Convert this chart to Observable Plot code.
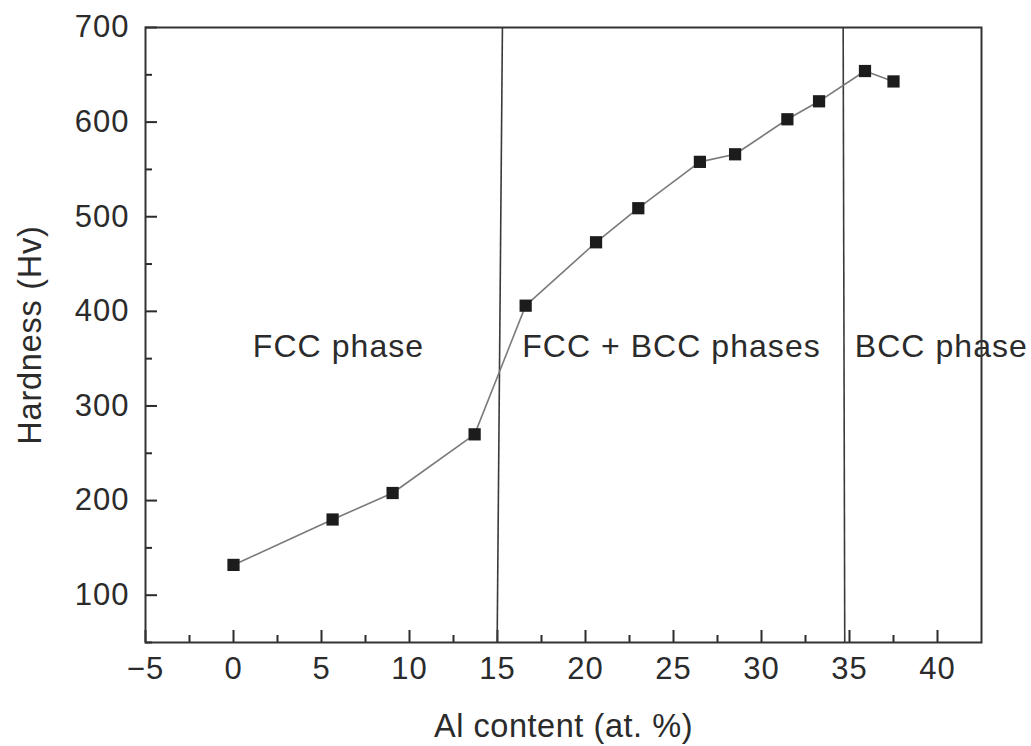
<!DOCTYPE html>
<html>
<head>
<meta charset="utf-8">
<script src="https://cdn.jsdelivr.net/npm/d3@7"></script>
<script src="https://cdn.jsdelivr.net/npm/@observablehq/plot@0.6"></script>
<style>
  html, body { margin: 0; padding: 0; background: #fff; }
</style>
</head>
<body>
<div id="chart"></div>
<script>
// Data
const alContent = [0, 5.63, 9.04, 13.7, 16.6, 20.6, 23.0, 26.5, 28.5, 31.47, 33.27, 35.88, 37.5];
const hardness  = [132, 180, 208, 270, 406, 473, 509, 558, 566, 603, 622, 654, 643];

// Phase boundary lines (slightly slanted in the original)
const boundaryTopX    = [15.28, 34.64];
const boundaryBottomX = [14.98, 34.73];

// Phase annotations
const phaseLabels = ["FCC phase", "FCC + BCC phases", "BCC phase"];
const phaseLabelX = [1.1, 16.4, 35.3];
const phaseLabelY = [363, 363, 363];

// Axis ticks
const xMajorTicks = [-5, 0, 5, 10, 15, 20, 25, 30, 35, 40];
const xMinorTicks = [-2.5, 2.5, 7.5, 12.5, 17.5, 22.5, 27.5, 32.5, 37.5];
const yMajorTicks = [100, 200, 300, 400, 500, 600, 700];
const yMinorTicks = [50, 150, 250, 350, 450, 550, 650];

const xDomain = [-5, 42.5];
const yDomain = [50, 700];

const points = alContent.map((x, i) => ({x, y: hardness[i]}));
const boundaries = boundaryTopX.map((t, i) => ({x1: t, x2: boundaryBottomX[i], y1: yDomain[1], y2: yDomain[0]}));
const notes = phaseLabels.map((t, i) => ({text: t, x: phaseLabelX[i], y: phaseLabelY[i]}));

const ink = "#2b2b2b";

const chart = Plot.plot({
  width: 1031,
  height: 746,
  marginTop: 27,
  marginRight: 50,
  marginBottom: 104,
  marginLeft: 145,
  style: {fontFamily: "'Liberation Sans', Arial, Helvetica, sans-serif", color: ink, background: "#fff", overflow: "visible"},
  x: {domain: xDomain},
  y: {domain: yDomain},
  marks: [
    // inward ticks
    Plot.axisX(xMajorTicks, {anchor: "bottom", tickSize: -12, text: null, label: null, stroke: ink, strokeWidth: 2}),
    Plot.axisX(xMinorTicks, {anchor: "bottom", tickSize: -7, text: null, label: null, stroke: ink, strokeWidth: 2}),
    Plot.axisY(yMajorTicks, {anchor: "left", tickSize: -12, text: null, label: null, stroke: ink, strokeWidth: 2}),
    Plot.axisY(yMinorTicks, {anchor: "left", tickSize: -7, text: null, label: null, stroke: ink, strokeWidth: 2}),
    // tick labels
    Plot.axisX(xMajorTicks, {anchor: "bottom", tickSize: 0, tickPadding: 14, label: null, fontSize: 31, fill: ink, tickFormat: d => d < 0 ? "\u2212" + Math.abs(d) : String(d)}),
    Plot.axisY(yMajorTicks, {anchor: "left", tickSize: 0, tickPadding: 16, label: null, fontSize: 31, fill: ink}),
    // axis titles
    Plot.text(["Al content (at. %)"], {frameAnchor: "bottom", dy: 84, fontSize: 32.5, fill: ink, textAnchor: "middle", lineAnchor: "middle"}),
    Plot.text(["Hardness (Hv)"], {frameAnchor: "left", dx: -115, rotate: -90, fontSize: 32.5, fill: ink, textAnchor: "middle", lineAnchor: "middle"}),
    // phase boundaries
    Plot.link(boundaries, {x1: "x1", y1: "y1", x2: "x2", y2: "y2", stroke: "#3a3a3a", strokeWidth: 1.6}),
    // series
    Plot.line(points, {x: "x", y: "y", stroke: "#7a7a7a", strokeWidth: 1.6}),
    Plot.dot(points, {x: "x", y: "y", symbol: "square", r: 6.9, fill: "#1c1c1c", stroke: "none"}),
    // annotations
    Plot.text(notes, {x: "x", y: "y", text: "text", textAnchor: "start", lineAnchor: "middle", fontSize: 32, fill: ink}),
    Plot.frame({stroke: "#333", strokeWidth: 2})
  ]
});

// widen glyph spacing slightly to match the original typeface
d3.select(chart).selectAll("text").each(function () {
  const t = this.textContent;
  let ls = 1;
  if (t === "Al content (at. %)") ls = 0.55;
  else if (t === "Hardness (Hv)") ls = 0.75;
  else if (phaseLabels.includes(t)) ls = 1.05;
  this.style.letterSpacing = ls + "px";
});

document.getElementById("chart").appendChild(chart);
</script>
</body>
</html>
